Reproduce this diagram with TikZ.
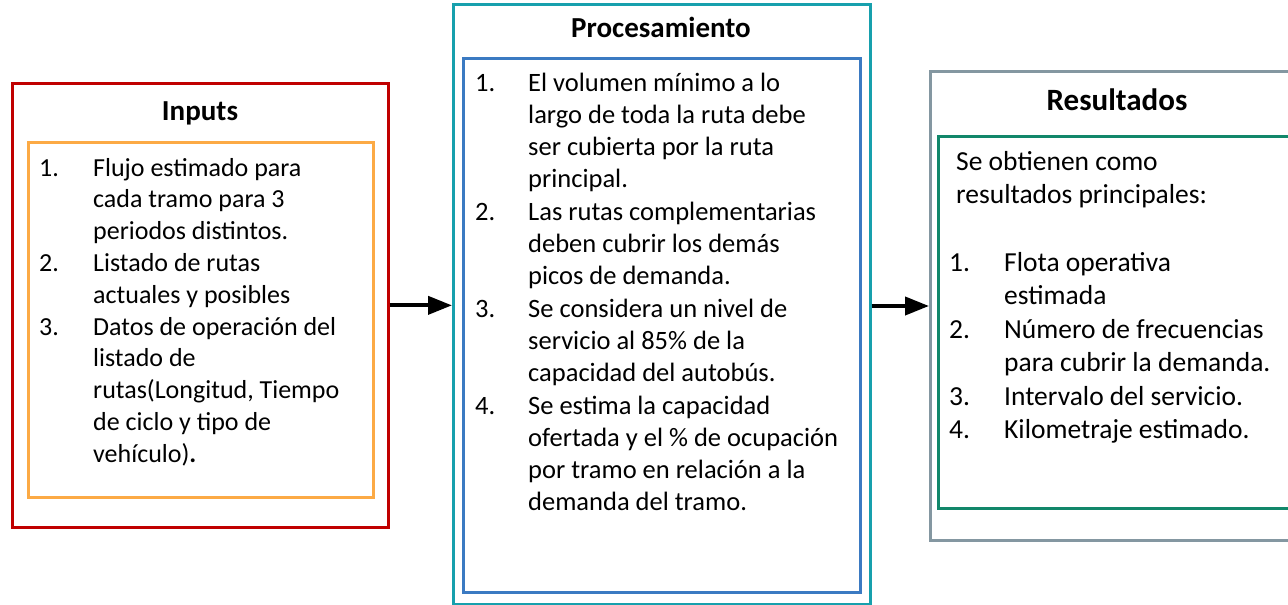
\documentclass[tikz,border=0pt]{standalone}
\usepackage{fontspec}
\setmainfont{Carlito}
\usetikzlibrary{arrows.meta}
\definecolor{cred}{HTML}{C00000}
\definecolor{corange}{HTML}{FCAA45}
\definecolor{cteal}{HTML}{17A0AD}
\definecolor{cblue}{HTML}{3B7AC2}
\definecolor{cgray}{HTML}{8497A1}
\definecolor{cgreen}{HTML}{12876A}
\newcommand{\numc}[2]{\makebox[#1][l]{#2}}
\begin{document}
\begin{tikzpicture}[x=1pt,y=-1pt,
  box/.style={draw, rectangle, anchor=north west, inner sep=0pt, line width=2.7pt},
  ttl/.style={anchor=base, inner sep=0pt, font=\bfseries},
  txt/.style={anchor=base west, inner sep=0pt, align=left},
  arr/.style={line width=4pt, -{Triangle[length=24pt,width=18pt]}}]
\useasboundingbox (0,0) rectangle (1288,605);
\clip (0,0) rectangle (1288,605);
% boxes
\node[box, draw=cred, minimum width=376pt, minimum height=444pt] (inO) at (11,82) {};
\node[box, draw=corange, minimum width=345pt, minimum height=355pt] (inI) at (27,141) {};
\node[box, draw=cteal, minimum width=417pt, minimum height=600pt] (prO) at (452,3) {};
\node[box, draw=cblue, line width=3pt, minimum width=397pt, minimum height=534pt] (prI) at (462,57) {};
\node[box, draw=cgray, line width=3pt, minimum width=380pt, minimum height=469pt] (reO) at (929,70) {};
\node[box, draw=cgreen, minimum width=370pt, minimum height=372pt] (reI) at (937,135) {};
% titles
\node[ttl, font=\bfseries\fontsize{29}{34}\selectfont] (tIn) at (200,120) {Inputs};
\node[ttl, font=\bfseries\fontsize{29}{34}\selectfont] (tPr) at (661,37) {Procesamiento};
\node[ttl, font=\bfseries\fontsize{31}{36}\selectfont] (tRe) at (1117,110) {Resultados};
% texts
\node[txt, font=\fontsize{26}{31.8}\selectfont] (xIn) at (39,176) {%
\begin{tabular}[t]{@{}l@{}l@{}}
\numc{54pt}{1.} & Flujo estimado para\\
 & cada tramo para 3\\
 & periodos distintos.\\
\numc{54pt}{2.} & Listado de rutas\\
 & actuales y posibles\\
\numc{54pt}{3.} & Datos de operación del\\
 & listado de\\
 & rutas(Longitud, Tiempo\\
 & de ciclo y tipo de\\
 & vehículo)\textbf{.}
\end{tabular}};
\node[txt, font=\fontsize{26.5}{32.3}\selectfont] (xPr) at (475,91) {%
\begin{tabular}[t]{@{}l@{}l@{}}
\numc{53pt}{1.} & El volumen mínimo a lo\\
 & largo de toda la ruta debe\\
 & ser cubierta por la ruta\\
 & principal.\\
\numc{53pt}{2.} & Las rutas complementarias\\
 & deben cubrir los demás\\
 & picos de demanda.\\
\numc{53pt}{3.} & Se considera un nivel de\\
 & servicio al 85\% de la\\
 & capacidad del autobús.\\
\numc{53pt}{4.} & Se estima la capacidad\\
 & ofertada y el \% de ocupación\\
 & por tramo en relación a la\\
 & demanda del tramo.
\end{tabular}};
\node[txt, font=\fontsize{27.5}{33.5}\selectfont] (xRe1) at (956,170) {%
\begin{tabular}[t]{@{}l@{}}
Se obtienen como\\
resultados principales:
\end{tabular}};
\node[txt, font=\fontsize{27.5}{33.5}\selectfont] (xRe2) at (949,271) {%
\begin{tabular}[t]{@{}l@{}l@{}}
\numc{55pt}{1.} & Flota operativa\\
 & estimada\\
\numc{55pt}{2.} & Número de frecuencias\\
 & para cubrir la demanda.\\
\numc{55pt}{3.} & Intervalo del servicio.\\
\numc{55pt}{4.} & Kilometraje estimado.
\end{tabular}};
% arrows
\draw[arr] (inO.east) -- (inO.east -| prO.west);
\draw[arr] (prO.east |- reO.west) -- (reO.west);
\end{tikzpicture}
\end{document}
